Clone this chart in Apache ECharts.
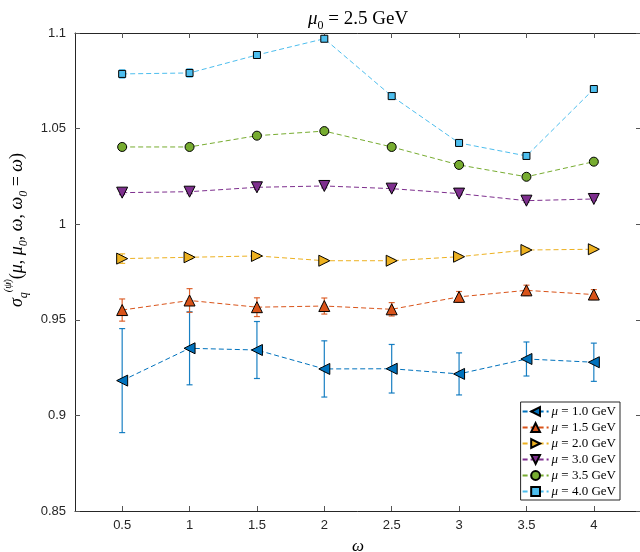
<!DOCTYPE html>
<html>
<head>
<meta charset="utf-8">
<script src="https://cdn.jsdelivr.net/npm/echarts@6/dist/echarts.min.js"></script>
<style>
html, body { margin: 0; padding: 0; background: #fff; }
#chart { width: 640px; height: 552px; }
</style>
</head>
<body>
<div id="chart"></div>
<script>
// omega grid and axis ticks
const omega = [0.5, 1, 1.5, 2, 2.5, 3, 3.5, 4];
const xTicks = [0.5, 1, 1.5, 2, 2.5, 3, 3.5, 4];
const xTickLabels = ['0.5', '1', '1.5', '2', '2.5', '3', '3.5', '4'];
const yTicks = [0.85, 0.9, 0.95, 1, 1.05, 1.1];
const yTickLabels = ['0.85', '0.9', '0.95', '1', '1.05', '1.1'];

// sigma values and uncertainties for each mu
const muLabels = ['1.0', '1.5', '2.0', '3.0', '3.5', '4.0'];
const sigmaMu10 = [0.9182, 0.9351, 0.9342, 0.9243, 0.9244, 0.9217, 0.9295, 0.9278];
const errMu10   = [0.0272, 0.0191, 0.0149, 0.0147, 0.0127, 0.0110, 0.0089, 0.0100];
const sigmaMu15 = [0.9551, 0.9601, 0.9566, 0.9572, 0.9555, 0.9620, 0.9654, 0.9632];
const errMu15   = [0.0058, 0.0062, 0.0049, 0.0042, 0.0035, 0.0028, 0.0027, 0.0026];
const sigmaMu20 = [0.9820, 0.9827, 0.9834, 0.9809, 0.9809, 0.9830, 0.9865, 0.9869];
const errMu20   = [0.0025, 0.0010, 0.0010, 0.0008, 0.0008, 0.0008, 0.0010, 0.0008];
const sigmaMu30 = [1.0165, 1.0170, 1.0193, 1.0200, 1.0186, 1.0160, 1.0123, 1.0132];
const errMu30   = [0.0010, 0.0010, 0.0010, 0.0010, 0.0008, 0.0008, 0.0008, 0.0008];
const sigmaMu35 = [1.0404, 1.0404, 1.0463, 1.0487, 1.0404, 1.0310, 1.0248, 1.0327];
const errMu35   = [0.0008, 0.0008, 0.0008, 0.0008, 0.0008, 0.0008, 0.0008, 0.0008];
const sigmaMu40 = [1.0786, 1.0791, 1.0885, 1.0970, 1.0670, 1.0425, 1.0357, 1.0707];
const errMu40   = [0.0022, 0.0022, 0.0012, 0.0010, 0.0010, 0.0010, 0.0010, 0.0010];

const sigmas = [sigmaMu10, sigmaMu15, sigmaMu20, sigmaMu30, sigmaMu35, sigmaMu40];
const errs = [errMu10, errMu15, errMu20, errMu30, errMu35, errMu40];

const colors = ['#0072BD', '#D95319', '#EDB120', '#7E2F8E', '#77AC30', '#4DBEEE'];
const symbols = ['triangle', 'triangle', 'triangle', 'triangle', 'circle', 'rect'];
const rotations = [90, 0, -90, 180, 0, 0];
const sizes = [11, 11, 11, 11, 9, 7];

const serif = "'Liberation Serif', 'DejaVu Serif', serif";
const sans = "'Liberation Sans', Arial, sans-serif";
const axisColor = '#262626';

function errorBarSeries(k) {
  return {
    type: 'custom',
    xAxisIndex: 0,
    yAxisIndex: 0,
    z: 1,
    silent: true,
    data: omega.map((w, i) => [w, sigmas[k][i], errs[k][i]]),
    renderItem: function (params, api) {
      const x = api.value(0), y = api.value(1), e = api.value(2);
      const hi = api.coord([x, y + e]);
      const lo = api.coord([x, y - e]);
      const cap = 3;
      const st = { stroke: colors[k], lineWidth: 1.2, opacity: 0.9 };
      return {
        type: 'group',
        children: [
          { type: 'line', shape: { x1: hi[0], y1: hi[1], x2: lo[0], y2: lo[1] }, style: st },
          { type: 'line', shape: { x1: hi[0] - cap, y1: hi[1], x2: hi[0] + cap, y2: hi[1] }, style: st },
          { type: 'line', shape: { x1: lo[0] - cap, y1: lo[1], x2: lo[0] + cap, y2: lo[1] }, style: st }
        ]
      };
    }
  };
}

function lineSeries(k) {
  return {
    name: muLabels[k],
    type: 'line',
    xAxisIndex: 0,
    yAxisIndex: 0,
    z: 3,
    data: omega.map((w, i) => [w, sigmas[k][i]]),
    symbol: symbols[k],
    symbolSize: sizes[k],
    symbolRotate: rotations[k],
    showAllSymbol: true,
    color: colors[k],
    lineStyle: { color: colors[k], width: 1, type: [5, 3] },
    itemStyle: { color: colors[k], borderColor: '#000', borderWidth: 1 },
    emphasis: { disabled: true },
    animation: false
  };
}

const series = [];
for (let k = 0; k < sigmas.length; k++) series.push(errorBarSeries(k));
for (let k = 0; k < sigmas.length; k++) series.push(lineSeries(k));

const chart = echarts.init(document.getElementById('chart'), null, { renderer: 'canvas' });

const baseX = {
  type: 'value', min: 0.15, max: 4.35,
  axisLine: { show: true, onZero: false, lineStyle: { color: axisColor, width: 1 } },
  axisTick: { show: true, inside: true, length: 5, customValues: xTicks, lineStyle: { color: '#555' } },
  splitLine: { show: false }
};
const baseY = {
  type: 'value', min: 0.85, max: 1.1,
  axisLine: { show: true, onZero: false, lineStyle: { color: axisColor, width: 1 } },
  axisTick: { show: true, inside: true, length: 5, customValues: yTicks, lineStyle: { color: '#555' } },
  splitLine: { show: false }
};

chart.setOption({
  animation: false,
  backgroundColor: '#fff',
  title: {
    text: '{i|μ}{s|0}{n| = 2.5 GeV}',
    left: 303,
    top: 1,
    textStyle: {
      fontWeight: 'normal',
      rich: {
        i: { fontFamily: serif, fontStyle: 'italic', fontWeight: 'normal', fontSize: 19, color: '#000', lineHeight: 26, verticalAlign: 'middle' },
        s: { fontFamily: serif, fontWeight: 'normal', fontSize: 12, color: '#000', lineHeight: 16, verticalAlign: 'bottom' },
        n: { fontFamily: serif, fontWeight: 'normal', fontSize: 19, color: '#000', lineHeight: 26, verticalAlign: 'middle' }
      }
    }
  },
  grid: { left: 75, top: 33, right: -1, bottom: 41, containLabel: false, outerBoundsMode: 'none' },
  legend: {
    data: muLabels,
    orient: 'vertical',
    right: 20,
    bottom: 52,
    itemWidth: 26,
    itemHeight: 11,
    itemGap: 3,
    padding: [3, 4, 2, 1],
    backgroundColor: '#fff',
    borderColor: axisColor,
    borderWidth: 1,
    borderRadius: 0,
    selectedMode: false,
    formatter: function (name) { return '{i|μ}{n| = ' + name + ' GeV}'; },
    textStyle: {
      padding: [0, 0, 0, -2],
      lineHeight: 13,
      rich: {
        i: { fontFamily: serif, fontStyle: 'italic', fontSize: 13, lineHeight: 13, color: '#000' },
        n: { fontFamily: serif, fontSize: 13, lineHeight: 13, color: '#000' }
      }
    }
  },
  xAxis: [
    Object.assign({}, baseX, {
      position: 'bottom',
      name: 'ω',
      nameLocation: 'middle',
      nameGap: 27,
      nameTextStyle: { fontFamily: serif, fontStyle: 'italic', fontSize: 17, color: '#000' },
      axisLabel: {
        customValues: xTicks,
        margin: 8,
        fontFamily: sans, fontSize: 13, color: axisColor,
        formatter: function (v) { return xTickLabels[xTicks.indexOf(+v.toFixed(2))]; }
      }
    }),
    Object.assign({}, baseX, { position: 'top', axisLabel: { show: false } })
  ],
  yAxis: [
    Object.assign({}, baseY, {
      position: 'left',
      name: '{it|σ}{sub|q}{sup|(ψ̸)}{n|(}{it|μ}{n|, }{it|μ}{sub|0}{n|, }{it|ω}{n|, }{it|ω}{sub|0}{n| = }{it|ω}{n|)}',
      nameLocation: 'middle',
      nameRotate: 90,
      nameGap: 38,
      nameTextStyle: {
        padding: [0, 0, 0, 84],
        rich: {
          it: { fontFamily: serif, fontStyle: 'italic', fontSize: 18, color: '#000', lineHeight: 26, verticalAlign: 'middle' },
          n: { fontFamily: serif, fontSize: 18, color: '#000', lineHeight: 26, verticalAlign: 'middle' },
          sub: { fontFamily: serif, fontStyle: 'italic', fontSize: 12, color: '#000', lineHeight: 14, verticalAlign: 'bottom' },
          sup: { fontFamily: serif, fontStyle: 'italic', fontSize: 10, color: '#000', lineHeight: 14, verticalAlign: 'top' }
        }
      },
      axisLabel: {
        customValues: yTicks,
        margin: 9,
        fontFamily: sans, fontSize: 13, color: axisColor,
        formatter: function (v) { return yTickLabels[yTicks.indexOf(+v.toFixed(2))]; }
      }
    }),
    Object.assign({}, baseY, { position: 'right', axisLabel: { show: false } })
  ],
  series: series
});
</script>
</body>
</html>
